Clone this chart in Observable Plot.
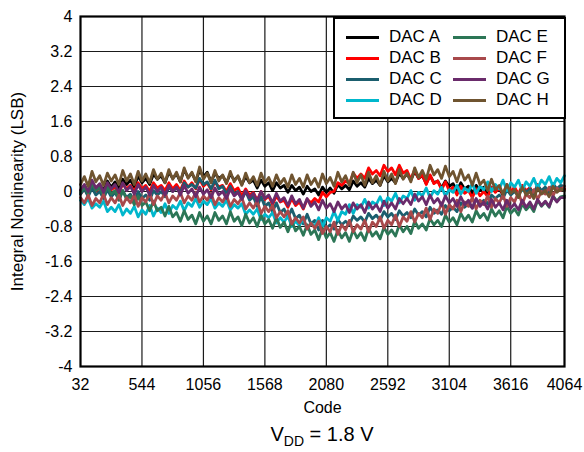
<!DOCTYPE html>
<html>
<head>
<meta charset="utf-8">
<script src="https://cdn.jsdelivr.net/npm/d3@7"></script>
<script src="https://cdn.jsdelivr.net/npm/@observablehq/plot@0.6"></script>
<style>
  html, body { margin: 0; padding: 0; background: #fff; }
  #wrap { position: relative; width: 584px; height: 452px; font-family: "Liberation Sans", Arial, sans-serif; color: #000; }
  #legend { position: absolute; left: 333px; top: 17px; width: 229px; height: 98px; border: 2px solid #000; background: #fff; }
  .item { position: absolute; font-size: 17px; line-height: 20px; white-space: nowrap; }
  .swatch { position: absolute; width: 33px; height: 3px; }
  #sub { position: absolute; left: 0; width: 644px; top: 423px; text-align: center; font-size: 20px; }
</style>
</head>
<body>
<div id="wrap">
  <div id="chart"></div>
  <div id="legend"></div>
  <div id="sub">V<sub style="font-size:14px;vertical-align:-5px">DD</sub> = 1.8 V</div>
</div>
<script>
// ---- data (INL in LSB, one value every 32 codes from code 32 to 4064) ----
const codeStart = 32;
const codeStep = 32;
const dacNames = ["DAC A", "DAC B", "DAC C", "DAC D", "DAC E", "DAC F", "DAC G", "DAC H"];
const dacColors = ["#000000", "#ff0000", "#1b5e6e", "#00b7cc", "#2c7656", "#a8494b", "#6a2b6b", "#6f5430"];
const xTicks = [32, 544, 1056, 1568, 2080, 2592, 3104, 3616, 4064];
const xTickLabels = ["32", "544", "1056", "1568", "2080", "2592", "3104", "3616", "4064"];
const yTicks = [-4, -3.2, -2.4, -1.6, -0.8, 0, 0.8, 1.6, 2.4, 3.2, 4];
const yTickLabels = ["-4", "-3.2", "-2.4", "-1.6", "-0.8", "0", "0.8", "1.6", "2.4", "3.2", "4"];

const dacA = [
  0.02, 0.14, 0.0, 0.2, 0.08, 0.16, 0.02, 0.24,
  0.1, 0.22, 0.06, 0.28, 0.16, 0.26, 0.1, 0.36,
  0.2, 0.3, 0.16, 0.4, 0.28, 0.36, 0.2, 0.44,
  0.3, 0.4, 0.22, 0.5, 0.32, 0.42, 0.24, 0.48,
  0.34, 0.44, 0.22, 0.42, 0.3, 0.36, 0.2, 0.4,
  0.26, 0.34, 0.16, 0.34, 0.2, 0.26, 0.08, 0.26,
  0.12, 0.2, 0.02, 0.2, 0.08, 0.14, -0.02, 0.14,
  0.02, 0.1, -0.06, 0.12, 0.0, 0.06, -0.08, 0.1,
  -0.02, 0.08, -0.04, 0.16, 0.06, 0.14, 0.04, 0.24,
  0.12, 0.2, 0.1, 0.3, 0.18, 0.26, 0.14, 0.36,
  0.22, 0.3, 0.2, 0.42, 0.3, 0.4, 0.26, 0.46,
  0.3, 0.36, 0.18, 0.36, 0.2, 0.24, 0.08, 0.24,
  0.12, 0.18, 0.02, 0.2, 0.06, 0.12, -0.04, 0.14,
  0.02, 0.1, -0.06, 0.1, 0.0, 0.06, -0.08, 0.08,
  -0.02, 0.06, -0.08, 0.1, 0.0, 0.08, -0.06, 0.12,
  0.0, 0.08, -0.04, 0.14, 0.04, 0.1, 0.05
];
const dacB = [
  -0.06, 0.06, -0.08, 0.12, 0.0, 0.08, -0.04, 0.14,
  0.04, 0.1, -0.04, 0.18, 0.06, 0.14, 0.0, 0.2,
  0.06, 0.14, 0.0, 0.2, 0.08, 0.14, 0.02, 0.2,
  0.06, 0.16, 0.02, 0.24, 0.1, 0.2, 0.06, 0.28,
  0.12, 0.2, 0.04, 0.22, 0.1, 0.14, 0.0, 0.18,
  0.02, 0.08, -0.1, 0.06, -0.08, -0.02, -0.2, 0.0,
  -0.18, -0.1, -0.3, -0.1, -0.24, -0.2, -0.36, -0.16,
  -0.32, -0.24, -0.4, -0.18, -0.26, -0.16, -0.24, -0.02,
  -0.12, -0.02, 0.0, 0.2, 0.14, 0.24, 0.18, 0.42,
  0.3, 0.4, 0.3, 0.54, 0.4, 0.48, 0.36, 0.6,
  0.46, 0.54, 0.38, 0.6, 0.42, 0.48, 0.28, 0.5,
  0.3, 0.38, 0.16, 0.38, 0.18, 0.24, 0.04, 0.22,
  0.02, 0.1, -0.08, 0.12, -0.04, 0.02, -0.14, 0.06,
  -0.1, 0.0, -0.12, 0.1, -0.02, 0.08, -0.06, 0.16,
  0.0, 0.1, -0.06, 0.14, 0.02, 0.08, -0.06, 0.16,
  -0.02, 0.08, -0.06, 0.14, 0.0, 0.12, 0.06
];
const dacC = [
  -0.06, 0.06, -0.12, 0.08, -0.08, 0.0, -0.16, 0.04,
  -0.12, -0.02, -0.2, 0.02, -0.14, -0.06, -0.22, 0.0,
  -0.16, -0.08, -0.2, 0.02, -0.08, 0.0, -0.12, 0.1,
  0.0, 0.08, -0.02, 0.2, 0.1, 0.16, 0.08, 0.3,
  0.16, 0.22, 0.06, 0.26, 0.06, 0.12, -0.06, 0.12,
  -0.06, 0.0, -0.18, 0.0, -0.2, -0.12, -0.34, -0.12,
  -0.34, -0.26, -0.46, -0.26, -0.48, -0.4, -0.6, -0.4,
  -0.62, -0.54, -0.74, -0.52, -0.74, -0.66, -0.88, -0.66,
  -0.84, -0.76, -0.86, -0.64, -0.76, -0.68, -0.76, -0.56,
  -0.66, -0.58, -0.7, -0.5, -0.62, -0.54, -0.66, -0.46,
  -0.58, -0.5, -0.64, -0.44, -0.56, -0.48, -0.6, -0.4,
  -0.54, -0.46, -0.58, -0.36, -0.5, -0.42, -0.52, -0.32,
  -0.44, -0.36, -0.46, -0.26, -0.36, -0.28, -0.38, -0.18,
  -0.28, -0.2, -0.28, -0.08, -0.16, -0.08, -0.16, 0.04,
  -0.08, 0.0, -0.1, 0.1, -0.02, 0.06, -0.06, 0.14,
  0.02, 0.1, -0.02, 0.18, 0.06, 0.14, 0.12
];
const dacD = [
  -0.2, -0.3, -0.16, -0.38, -0.28, -0.36, -0.22, -0.46,
  -0.36, -0.46, -0.3, -0.54, -0.4, -0.5, -0.34, -0.58,
  -0.42, -0.52, -0.32, -0.56, -0.38, -0.48, -0.28, -0.5,
  -0.32, -0.4, -0.22, -0.44, -0.26, -0.34, -0.16, -0.36,
  -0.22, -0.3, -0.16, -0.38, -0.26, -0.34, -0.2, -0.42,
  -0.3, -0.38, -0.28, -0.52, -0.42, -0.52, -0.4, -0.64,
  -0.52, -0.6, -0.48, -0.72, -0.6, -0.7, -0.56, -0.8,
  -0.68, -0.78, -0.62, -0.86, -0.72, -0.8, -0.6, -0.8,
  -0.6, -0.68, -0.46, -0.66, -0.46, -0.52, -0.3, -0.5,
  -0.3, -0.36, -0.18, -0.38, -0.24, -0.3, -0.12, -0.32,
  -0.14, -0.22, -0.04, -0.26, -0.1, -0.16, 0.02, -0.2,
  -0.02, -0.1, 0.08, -0.14, 0.02, -0.06, 0.1, -0.1,
  0.04, -0.02, 0.14, -0.06, 0.08, 0.0, 0.18, -0.04,
  0.12, 0.04, 0.22, 0.0, 0.16, 0.06, 0.26, 0.02,
  0.2, 0.1, 0.26, 0.02, 0.22, 0.12, 0.3, 0.08,
  0.26, 0.16, 0.34, 0.12, 0.3, 0.2, 0.36
];
const dacE = [
  -0.02, 0.1, -0.06, 0.18, 0.02, 0.1, -0.1, 0.12,
  -0.06, 0.02, -0.18, 0.02, -0.18, -0.1, -0.3, -0.1,
  -0.32, -0.24, -0.44, -0.22, -0.44, -0.36, -0.56, -0.34,
  -0.58, -0.48, -0.68, -0.44, -0.64, -0.54, -0.74, -0.48,
  -0.68, -0.56, -0.74, -0.48, -0.66, -0.56, -0.74, -0.46,
  -0.68, -0.58, -0.78, -0.52, -0.72, -0.6, -0.8, -0.54,
  -0.74, -0.64, -0.84, -0.6, -0.82, -0.7, -0.92, -0.68,
  -0.9, -0.8, -1.0, -0.76, -0.98, -0.88, -1.1, -0.84,
  -1.06, -0.94, -1.14, -0.88, -1.06, -0.94, -1.14, -0.88,
  -1.06, -0.94, -1.12, -0.84, -1.02, -0.92, -1.08, -0.82,
  -0.98, -0.88, -1.02, -0.76, -0.92, -0.8, -0.96, -0.68,
  -0.84, -0.74, -0.88, -0.62, -0.76, -0.66, -0.8, -0.54,
  -0.7, -0.6, -0.76, -0.5, -0.66, -0.54, -0.7, -0.44,
  -0.6, -0.5, -0.66, -0.4, -0.56, -0.44, -0.6, -0.34,
  -0.5, -0.4, -0.54, -0.28, -0.42, -0.32, -0.46, -0.2,
  -0.34, -0.24, -0.36, -0.1, -0.22, -0.12, -0.1
];
const dacF = [
  -0.14, -0.26, -0.08, -0.32, -0.16, -0.26, -0.06, -0.3,
  -0.14, -0.26, -0.08, -0.32, -0.14, -0.26, -0.08, -0.34,
  -0.14, -0.24, -0.04, -0.3, -0.1, -0.2, -0.02, -0.26,
  -0.1, -0.2, -0.02, -0.26, -0.1, -0.2, -0.02, -0.24,
  -0.1, -0.2, -0.04, -0.3, -0.14, -0.24, -0.08, -0.34,
  -0.18, -0.28, -0.14, -0.4, -0.26, -0.38, -0.22, -0.5,
  -0.34, -0.46, -0.32, -0.6, -0.46, -0.58, -0.44, -0.74,
  -0.6, -0.72, -0.58, -0.86, -0.72, -0.84, -0.68, -0.96,
  -0.8, -0.92, -0.7, -0.98, -0.76, -0.88, -0.66, -0.92,
  -0.76, -0.86, -0.66, -0.92, -0.7, -0.8, -0.58, -0.84,
  -0.66, -0.76, -0.54, -0.8, -0.58, -0.68, -0.46, -0.7,
  -0.5, -0.6, -0.38, -0.64, -0.4, -0.5, -0.26, -0.52,
  -0.3, -0.4, -0.2, -0.46, -0.24, -0.34, -0.14, -0.4,
  -0.2, -0.3, -0.1, -0.36, -0.16, -0.26, -0.08, -0.34,
  -0.14, -0.24, -0.02, -0.28, -0.06, -0.14, 0.04, -0.18,
  0.0, -0.06, 0.1, -0.1, 0.08, 0.02, 0.12
];
const dacG = [
  0.04, 0.16, 0.0, 0.26, 0.08, 0.18, -0.02, 0.2,
  0.06, 0.16, -0.02, 0.2, 0.02, 0.12, -0.06, 0.16,
  0.0, 0.1, -0.08, 0.14, 0.0, 0.1, -0.08, 0.14,
  0.0, 0.1, -0.08, 0.14, -0.04, 0.06, -0.12, 0.1,
  -0.06, 0.04, -0.14, 0.08, -0.08, 0.0, -0.16, 0.06,
  -0.1, -0.02, -0.18, 0.02, -0.14, -0.04, -0.22, 0.0,
  -0.16, -0.08, -0.26, -0.04, -0.22, -0.14, -0.32, -0.1,
  -0.28, -0.18, -0.38, -0.16, -0.34, -0.24, -0.42, -0.2,
  -0.38, -0.28, -0.46, -0.24, -0.4, -0.3, -0.48, -0.26,
  -0.4, -0.3, -0.48, -0.24, -0.4, -0.3, -0.46, -0.22,
  -0.38, -0.26, -0.4, -0.16, -0.28, -0.16, -0.3, -0.06,
  -0.22, -0.12, -0.3, -0.08, -0.26, -0.16, -0.32, -0.1,
  -0.26, -0.16, -0.34, -0.12, -0.3, -0.2, -0.38, -0.16,
  -0.34, -0.24, -0.4, -0.18, -0.36, -0.26, -0.42, -0.2,
  -0.38, -0.28, -0.42, -0.2, -0.36, -0.24, -0.4, -0.18,
  -0.32, -0.22, -0.34, -0.12, -0.24, -0.14, -0.14
];
const dacH = [
  0.16, 0.34, 0.12, 0.46, 0.22, 0.36, 0.14, 0.42,
  0.24, 0.38, 0.16, 0.48, 0.24, 0.4, 0.16, 0.46,
  0.24, 0.4, 0.2, 0.5, 0.28, 0.42, 0.2, 0.5,
  0.28, 0.44, 0.22, 0.54, 0.3, 0.44, 0.22, 0.56,
  0.28, 0.42, 0.2, 0.48, 0.24, 0.38, 0.18, 0.46,
  0.22, 0.36, 0.14, 0.42, 0.2, 0.34, 0.14, 0.42,
  0.2, 0.32, 0.12, 0.38, 0.18, 0.3, 0.1, 0.38,
  0.16, 0.3, 0.1, 0.38, 0.16, 0.3, 0.1, 0.4,
  0.18, 0.32, 0.12, 0.44, 0.22, 0.36, 0.14, 0.44,
  0.2, 0.38, 0.14, 0.44, 0.2, 0.36, 0.14, 0.46,
  0.24, 0.4, 0.18, 0.5, 0.28, 0.42, 0.22, 0.54,
  0.32, 0.48, 0.28, 0.6, 0.38, 0.5, 0.3, 0.58,
  0.34, 0.46, 0.22, 0.5, 0.26, 0.38, 0.14, 0.42,
  0.16, 0.26, 0.02, 0.28, 0.04, 0.14, -0.06, 0.16,
  -0.04, 0.04, -0.14, 0.1, -0.08, 0.0, -0.16, 0.08,
  -0.06, 0.02, -0.12, 0.12, -0.02, 0.06, 0.02
];

const seriesValues = [dacA, dacB, dacC, dacD, dacE, dacF, dacG, dacH];
const rows = seriesValues.flatMap((vals, k) =>
  vals.map((v, i) => ({ dac: dacNames[k], code: codeStart + codeStep * i, inl: v }))
);

const chart = Plot.plot({
  width: 584,
  height: 415,
  marginTop: 16,
  marginBottom: 49,
  marginLeft: 80,
  marginRight: 20,
  style: { fontFamily: "'Liberation Sans', Arial, sans-serif", fontSize: "16px", color: "#000", background: "#fff", overflow: "visible" },
  x: { domain: [32, 4064] },
  y: { domain: [-4, 4] },
  color: { domain: dacNames, range: dacColors },
  marks: [
    Plot.ruleX(xTicks.slice(1, -1), { stroke: "#1a1a1a", strokeWidth: 1.2 }),
    Plot.ruleY(yTicks.slice(1, -1), { stroke: "#1a1a1a", strokeWidth: 1.2 }),
    Plot.line(rows, { x: "code", y: "inl", z: "dac", stroke: "dac", strokeWidth: 2.8, strokeLinejoin: "round" }),
    Plot.frame({ stroke: "#000", strokeWidth: 2.2 }),
    Plot.axisX({ ticks: xTicks, tickFormat: (d, i) => xTickLabels[i], tickSize: 0, tickPadding: 12, fontSize: 16,
      label: "Code", labelAnchor: "center", labelOffset: 46, labelArrow: "none" }),
    Plot.axisY({ ticks: yTicks, tickFormat: (d, i) => yTickLabels[i], tickSize: 0, tickPadding: 8, fontSize: 16,
      label: null }),
    Plot.axisY({ ticks: [], label: "Integral Nonlinearity (LSB)", labelAnchor: "center", labelOffset: 70, labelArrow: "none", fontSize: 17 })
  ]
});
document.getElementById("chart").appendChild(chart);

// legend (two columns of four)
const legend = document.getElementById("legend");
dacNames.forEach((name, k) => {
  const col = Math.floor(k / 4), row = k % 4;
  const sw = document.createElement("div");
  sw.className = "swatch";
  sw.style.left = (11 + col * 107) + "px";
  sw.style.top = (17 + row * 21) + "px";
  sw.style.background = dacColors[k];
  legend.appendChild(sw);
  const t = document.createElement("div");
  t.className = "item";
  t.style.left = (54 + col * 107) + "px";
  t.style.top = (8 + row * 21) + "px";
  t.textContent = name;
  legend.appendChild(t);
});
</script>
</body>
</html>
